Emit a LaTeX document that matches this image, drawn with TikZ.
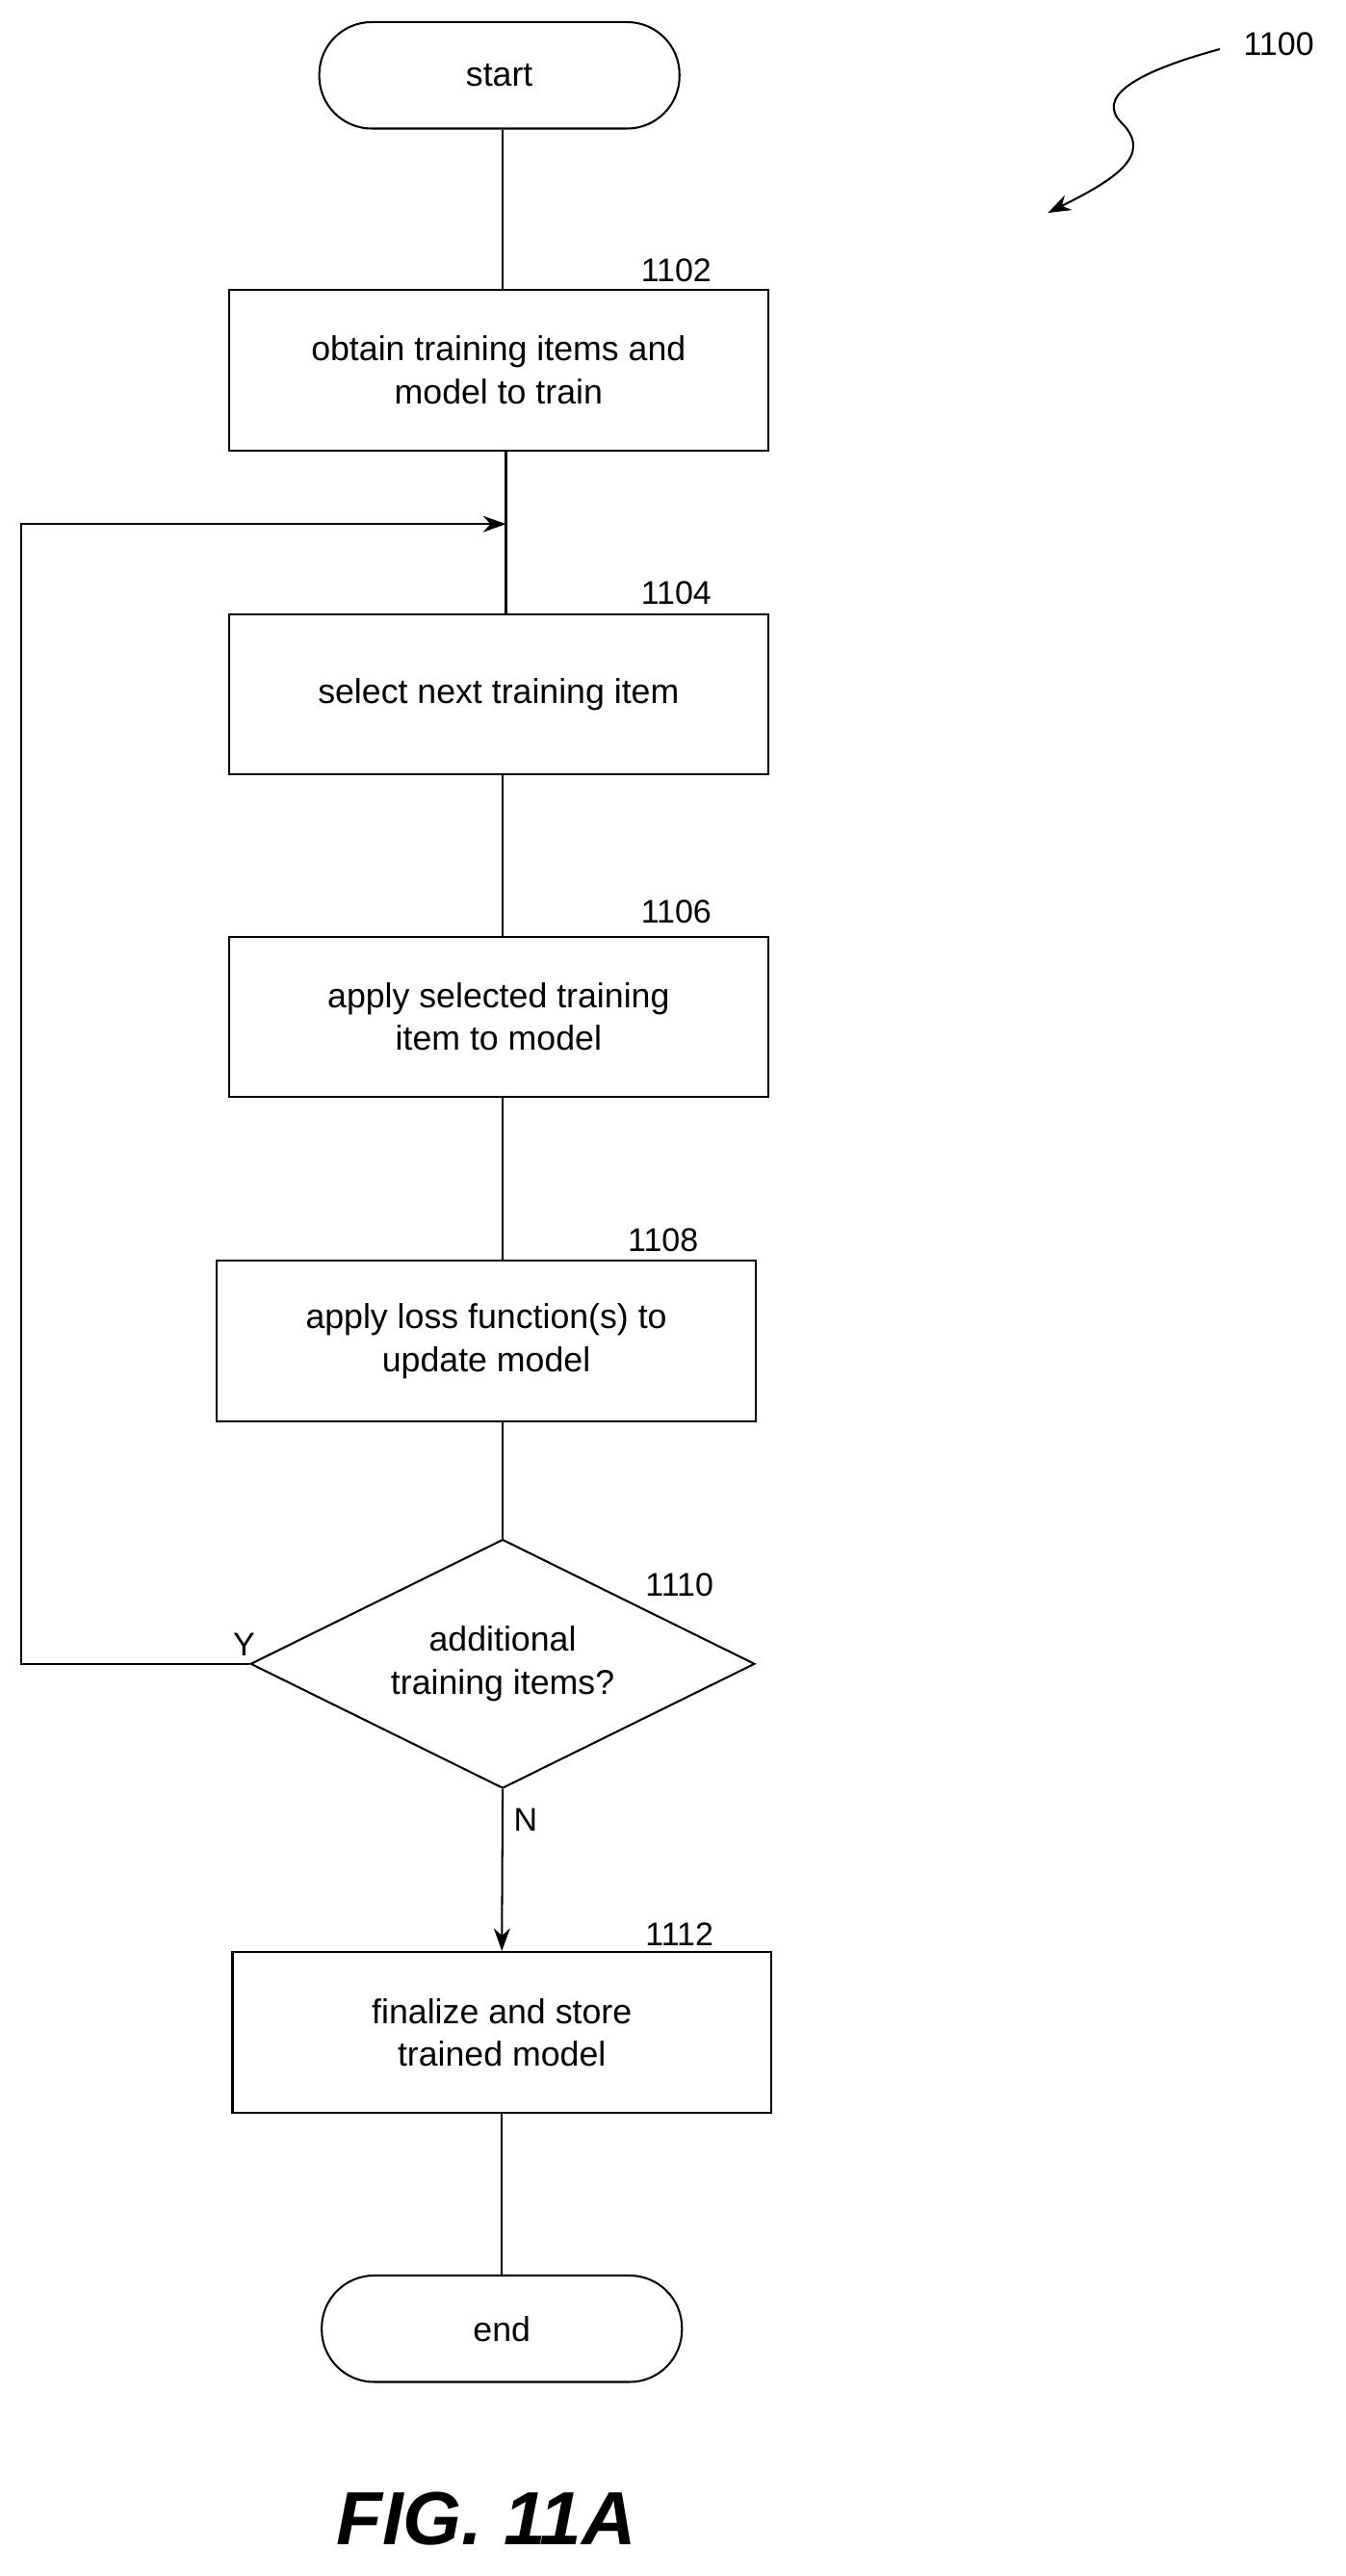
\documentclass[tikz,border=0pt]{standalone}
\usepackage{fontspec}
\setmainfont{Liberation Sans}
\usetikzlibrary{shapes.geometric,arrows.meta}
\begin{document}
\begin{tikzpicture}[x=1pt,y=-1pt,
 every node/.style={font=\fontsize{21}{26}\selectfont},
 box/.style={draw,line width=1.2pt,minimum width=329pt,minimum height=98pt,align=center,inner sep=0pt},
 term/.style={draw,line width=1.2pt,rounded corners=32pt,minimum width=220pt,minimum height=65pt,inner sep=0pt},
 lbl/.style={font=\fontsize{20}{24}\selectfont},
 ln/.style={line width=1.2pt},
 arr/.style={ln,-{Stealth[length=14pt,width=10pt]}}]
\useasboundingbox (0,0) rectangle (822,1573);
\node[term] (start) at (305,46) {start};
\node[box] (b1102) at (304.5,226) {obtain training items and\\model to train};
\node[box] (b1104) at (304.5,424) {select next training item};
\node[box] (b1106) at (304.5,621) {apply selected training\\item to model};
\node[box] (b1108) at (297,819) {apply loss function(s) to\\update model};
\node[draw,line width=1.2pt,diamond,minimum width=308pt,minimum height=152pt,aspect=2,inner sep=0pt,align=center] (d) at (307,1016) {additional\\training items?};
\node[box] (b1112) at (306.5,1241) {finalize and store\\trained model};
\node[term] (end) at (306.5,1422) {end};
\node[lbl] at (413,165) {1102};
\node[lbl] at (413,362) {1104};
\node[lbl] at (413,557) {1106};
\node[lbl] at (405,757) {1108};
\node[lbl] at (415,968) {1110};
\node[lbl] at (415,1181) {1112};
\node[lbl] at (149,1004) {Y};
\node[lbl] at (321,1111) {N};
\node[lbl] at (781,27) {1100};
\node[font=\fontsize{46}{50}\selectfont\rmfamily\bfseries\itshape] (fig) at (297,1538) {FIG. 11A};
\coordinate (j) at (309,320);
\draw[ln] (start.south -| 307,0) -- (307,177);
\draw[ln] (309,275) -- (309,375);
\draw[ln] (307,473) -- (307,572);
\draw[ln] (307,670) -- (307,770);
\draw[ln] (307,868) -- (d.north);
\draw[arr] (d.south) -- (b1112.north);
\draw[ln] (b1112.south) -- (end.north);
\draw[arr] (d.west) -- (13,1016) -- (13,320) -- (j);
\draw[arr] (745,30) .. controls (690,45) and (670,60) .. (685,75) .. controls (705,95) and (680,110) .. (640,130);
\end{tikzpicture}
\end{document}
